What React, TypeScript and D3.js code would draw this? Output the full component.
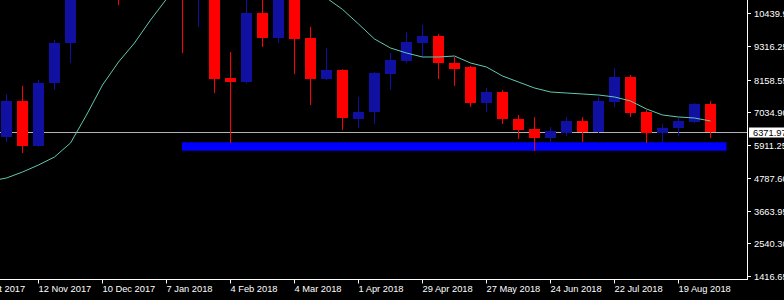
import React from 'react';
import * as d3 from 'd3';

// Weekly candles (week start dates)
const weekStarts = [
  '2017-10-22',
  '2017-10-29', '2017-11-05', '2017-11-12', '2017-11-19', '2017-11-26',
  '2017-12-03', '2017-12-10', '2017-12-17', '2017-12-24', '2017-12-31',
  '2018-01-07', '2018-01-14', '2018-01-21', '2018-01-28', '2018-02-04',
  '2018-02-11', '2018-02-18', '2018-02-25', '2018-03-04', '2018-03-11',
  '2018-03-18', '2018-03-25', '2018-04-01', '2018-04-08', '2018-04-15',
  '2018-04-22', '2018-04-29', '2018-05-06', '2018-05-13', '2018-05-20',
  '2018-05-27', '2018-06-03', '2018-06-10', '2018-06-17', '2018-06-24',
  '2018-07-01', '2018-07-08', '2018-07-15', '2018-07-22', '2018-07-29',
  '2018-08-05', '2018-08-12', '2018-08-19', '2018-08-26', '2018-09-02',
];

const opens = [6000, 6192, 7429, 5883, 8047, 9421, 11250, 15000, 19100, 13700, 14200, 16200, 13800, 11300, 11700, 8218, 8081, 10451, 9593, 11500, 9593, 8184, 8494, 6810, 7050, 8356, 8803, 9421, 9661, 8734, 8596, 7360, 7738, 6810, 6466, 6157, 6329, 6741, 6363, 7394, 8253, 7050, 6329, 6501, 6707, 7325];
const highs = [6200, 7669, 7944, 8150, 9524, 11500, 17200, 19300, 19800, 16000, 17200, 17100, 14100, 12000, 11900, 9112, 11100, 11800, 11600, 11700, 9971, 9249, 8520, 7566, 8420, 9077, 9799, 10039, 9730, 8940, 8631, 7875, 7806, 6947, 6878, 6535, 6878, 6878, 7566, 8562, 8322, 7119, 6638, 6844, 7360, 7429];
const lows = [5600, 6020, 5642, 5860, 7806, 8734, 11000, 13100, 10726, 11900, 12800, 12800, 9077, 9971, 7703, 5986, 8030, 9283, 9421, 8356, 7291, 8150, 6432, 6501, 6638, 7806, 8734, 8940, 8184, 7944, 7222, 7050, 6638, 6123, 5711, 6020, 6226, 6020, 6329, 7222, 6878, 5986, 6020, 6226, 6672, 6157];
const closes = [6150, 7429, 5883, 8047, 9421, 11250, 15000, 19100, 13700, 14200, 16200, 13800, 11300, 11700, 8184, 8081, 10451, 9593, 11500, 9558, 8184, 8494, 6845, 7050, 8390, 8837, 9455, 9661, 8734, 8528, 7360, 7738, 6810, 6432, 6157, 6398, 6741, 6363, 7429, 8253, 7016, 6329, 6501, 6741, 7325, 6371.97];

// Moving average
const maValues = [4680, 4783, 4989, 5230, 5505, 5986, 6947, 7978, 8768, 9421, 10211, 10932, 11600, 12200, 12600, 12800, 12800, 12600, 12300, 11900, 11400, 10967, 10575, 10074, 9558, 9249, 9077, 8940, 8940, 8974, 8734, 8596, 8287, 8081, 7875, 7738, 7703, 7669, 7635, 7566, 7429, 7154, 6947, 6879, 6844, 6741];

const xTickDates = ['2017-10-15', '2017-11-12', '2017-12-10', '2018-01-07', '2018-02-04', '2018-03-04', '2018-04-01', '2018-04-29', '2018-05-27', '2018-06-24', '2018-07-22', '2018-08-19'];
const xTickLabels = ['15 Oct 2017', '12 Nov 2017', '10 Dec 2017', '7 Jan 2018', '4 Feb 2018', '4 Mar 2018', '1 Apr 2018', '29 Apr 2018', '27 May 2018', '24 Jun 2018', '22 Jul 2018', '19 Aug 2018'];

const yTickValues = [10439.9, 9316.25, 8158.55, 7034.9, 5911.25, 4787.6, 3663.95, 2540.3, 1416.65];

const lastPrice = 6371.97;
const zoneDates = ['2018-01-14', '2018-09-09'];
const zonePrices = [6010, 5720];

const W = 784;
const H = 300;
const plotRight = 747.5;
const plotBottom = 279.5;
const FONT = '"Liberation Sans", Arial, sans-serif';

export default function App() {
  const parse = d3.utcParse('%Y-%m-%d');
  const x = d3
    .scaleUtc()
    .domain([parse('2017-10-29') as Date, parse('2018-09-02') as Date])
    .range([6.5, 710.5]);
  const y = d3.scaleLinear().domain([1416.65, 10898.1]).range([276, 0]);

  const candles = weekStarts.map((d, i) => ({
    date: parse(d) as Date,
    o: opens[i],
    h: highs[i],
    l: lows[i],
    c: closes[i],
    ma: maValues[i],
  }));

  const maLine = d3
    .line<any>()
    .x((d) => x(d.date))
    .y((d) => y(d.ma));

  const bull = '#1010A2';
  const bear = '#FF0000';
  const half = 5.5;

  const zx0 = x(parse(zoneDates[0]) as Date) - 0.5;
  const zx1 = x(parse(zoneDates[1]) as Date);
  const zy0 = y(zonePrices[0]);
  const zy1 = y(zonePrices[1]);
  const py = Math.round(y(lastPrice)) + 0.5;

  return (
    <svg
      width={W}
      height={H}
      style={{ position: 'absolute', left: 0, top: 0, display: 'block' }}
      xmlns="http://www.w3.org/2000/svg"
    >
      <defs>
        <clipPath id="plot">
          <rect x={0} y={0} width={plotRight} height={plotBottom} />
        </clipPath>
      </defs>
      <rect x={0} y={0} width={W} height={H} fill="#000000" />
      <g clipPath="url(#plot)">
        <rect x={zx0} y={zy0} width={zx1 - zx0} height={zy1 - zy0} fill="#0000FF" />
        <line x1={0} x2={plotRight} y1={py} y2={py} stroke="#B4B4B4" strokeWidth={1} />
        {candles.map((d, i) => {
          const cx = x(d.date);
          const col = d.c >= d.o ? bull : bear;
          const top = Math.round(y(Math.max(d.o, d.c)));
          const bot = Math.round(y(Math.min(d.o, d.c)));
          return (
            <g key={i}>
              <line x1={cx} x2={cx} y1={y(d.h)} y2={y(d.l)} stroke={col} strokeWidth={1} />
              <rect x={cx - half} y={top} width={half * 2} height={Math.max(1, bot - top)} fill={col} />
            </g>
          );
        })}
        <path d={maLine(candles) || ''} fill="none" stroke="#60C8B0" strokeWidth={1} />
      </g>
      {/* axes */}
      <line x1={plotRight} x2={plotRight} y1={0} y2={plotBottom} stroke="#FFFFFF" strokeWidth={1} />
      <line x1={0} x2={plotRight + 0.5} y1={plotBottom} y2={plotBottom} stroke="#FFFFFF" strokeWidth={1} />
      {yTickValues.map((v, i) => {
        const ty = Math.round(y(v)) + 0.5;
        return (
          <g key={'y' + i}>
            <line x1={plotRight} x2={plotRight + 3.5} y1={ty} y2={ty} stroke="#FFFFFF" strokeWidth={1} />
            <text x={754} y={ty + 3.4} fill="#FFFFFF" fontFamily={FONT} fontSize={9.3}>
              {v.toFixed(2)}
            </text>
          </g>
        );
      })}
      <rect x={749} y={py - 5} width={W - 749} height={10} fill="#FFFFFF" />
      <text x={753} y={py + 3.4} fill="#000000" fontFamily={FONT} fontSize={9.3}>
        {lastPrice.toFixed(2)}
      </text>
      {xTickDates.map((d, i) => {
        const tx = Math.round(x(parse(d) as Date) - 0.5) + 0.5;
        return (
          <g key={'x' + i}>
            <line x1={tx} x2={tx} y1={plotBottom} y2={plotBottom + 4} stroke="#FFFFFF" strokeWidth={1} />
            <text x={tx} y={291.8} fill="#FFFFFF" fontFamily={FONT} fontSize={9.3}>
              {xTickLabels[i]}
            </text>
          </g>
        );
      })}
    </svg>
  );
}
